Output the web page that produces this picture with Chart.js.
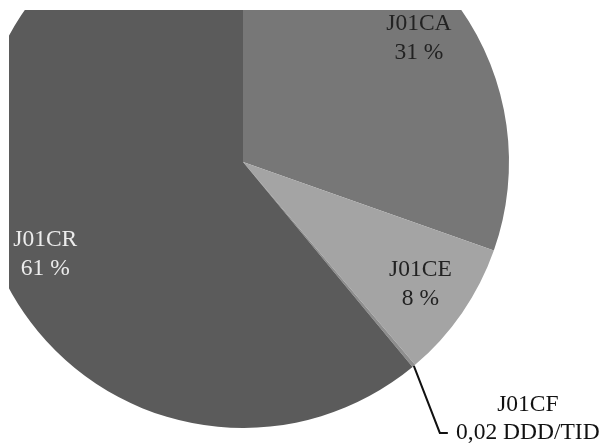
<!DOCTYPE html>
<html lang="en">
<head>
    <meta charset="UTF-8">
    <title>J01C pie</title>
    <script src="https://cdn.jsdelivr.net/npm/chart.js"></script>
    <style>
        body {
            margin: 0;
            background: #ffffff;
            width: 604px;
            height: 444px;
            overflow: hidden;
        }
        /* the original picture is cropped on the top and left */
        #frame {
            position: absolute;
            left: 9px;
            top: 10px;
            width: 595px;
            height: 434px;
            overflow: hidden;
        }
        #pieChart {
            position: absolute;
            left: -32px;
            top: -114px;
        }
    </style>
</head>
<body>
    <div id="frame">
        <canvas id="pieChart" width="627" height="548"></canvas>
    </div>

    <script>
        // data
        const codes = ['J01CA', 'J01CE', 'J01CF', 'J01CR'];
        const shares = [30.4, 8.4, 0.2, 61.0];
        const shareLabels = ['31 %', '8 %', '0,02 DDD/TID', '61 %'];
        const sliceColors = ['#777777', '#a4a4a4', '#8e8e8e', '#5b5b5b'];
        const labelColors = ['#222222', '#222222', '#111111', '#ececec'];

        const FONT = '23.5px "Liberation Serif", "DejaVu Serif", serif';

        // labels inside the slices, callout for the tiny J01CF slice
        const sliceLabels = {
            id: 'sliceLabels',
            afterDatasetsDraw(chart) {
                const ctx = chart.ctx;
                const arcs = chart.getDatasetMeta(0).data;
                ctx.save();
                ctx.font = FONT;
                ctx.textBaseline = 'middle';
                ctx.textAlign = 'center';
                arcs.forEach((arc, i) => {
                    const p = arc.getProps(['x', 'y', 'startAngle', 'endAngle', 'outerRadius'], true);
                    const mid = (p.startAngle + p.endAngle) / 2;
                    ctx.fillStyle = labelColors[i];
                    if (codes[i] === 'J01CF') {
                        const sx = p.x + Math.cos(mid) * p.outerRadius;
                        const sy = p.y + Math.sin(mid) * p.outerRadius;
                        const ex = sx + 26, ey = sy + 67;
                        ctx.strokeStyle = '#111111';
                        ctx.lineWidth = 2;
                        ctx.beginPath();
                        ctx.moveTo(sx, sy);
                        ctx.lineTo(ex, ey);
                        ctx.lineTo(ex + 8, ey);
                        ctx.stroke();
                        ctx.fillText(codes[i], ex + 88, ey - 28);
                        ctx.fillText(shareLabels[i], ex + 88, ey);
                        return;
                    }
                    const r = p.outerRadius * 0.81;
                    let x = p.x + Math.cos(mid) * r;
                    let y = p.y + Math.sin(mid) * r;
                    if (codes[i] === 'J01CR') { x += 5; y += 19; }
                    ctx.fillText(codes[i], x, y - 14);
                    ctx.fillText(shareLabels[i], x, y + 15);
                });
                ctx.restore();
            }
        };

        const ctx = document.getElementById('pieChart').getContext('2d');
        const pieChart = new Chart(ctx, {
            type: 'pie',
            data: {
                labels: codes,
                datasets: [{
                    data: shares,
                    backgroundColor: sliceColors,
                    borderWidth: 0,
                    hoverOffset: 0
                }]
            },
            options: {
                responsive: false,
                animation: false,
                radius: 266,
                layout: {
                    padding: { left: 0, top: 0, right: 95, bottom: 16 }
                },
                plugins: {
                    legend: { display: false },
                    tooltip: { enabled: false }
                }
            },
            plugins: [sliceLabels]
        });
    </script>
</body>
</html>
